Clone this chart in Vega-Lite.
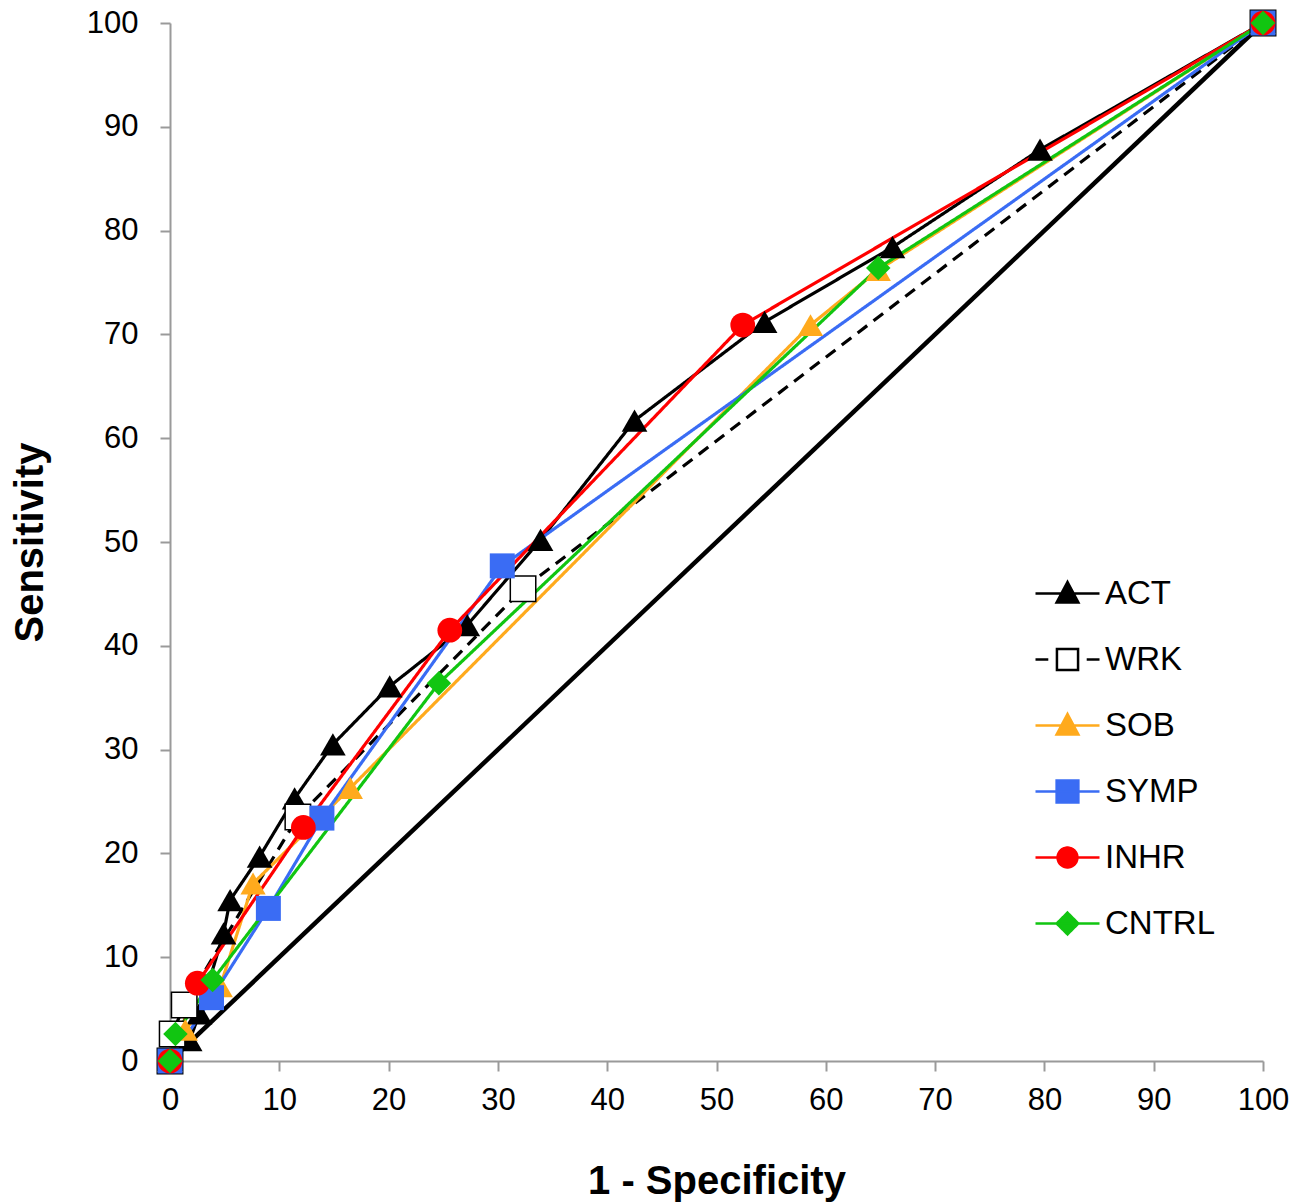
{
  "$schema": "https://vega.github.io/schema/vega-lite/v6.json",
  "width": 1093,
  "height": 1038,
  "autosize": {"type": "none"},
  "padding": {"left": 170, "top": 23, "right": 47, "bottom": 142},
  "background": "white",
  "config": {
    "view": {"stroke": null},
    "font": "Liberation Sans",
    "axis": {
      "grid": false,
      "labelFlush": false,
      "labelOverlap": false,
      "domainColor": "#9a9a9a",
      "domainWidth": 2,
      "tickColor": "#9a9a9a",
      "tickWidth": 2,
      "tickSize": 10,
      "labelFont": "Liberation Sans",
      "labelFontSize": 31,
      "labelColor": "#000000",
      "titleFont": "Liberation Sans",
      "titleFontSize": 40,
      "titleFontWeight": "bold",
      "titleColor": "#000000"
    }
  },
  "datasets": {
    "roc": [
      {"series": "ACT", "ord": 1, "x": 0, "y": 0},
      {"series": "ACT", "ord": 2, "x": 1.8, "y": 2.0},
      {"series": "ACT", "ord": 3, "x": 2.7, "y": 4.6},
      {"series": "ACT", "ord": 4, "x": 4.9, "y": 12.3},
      {"series": "ACT", "ord": 5, "x": 5.5, "y": 15.5},
      {"series": "ACT", "ord": 6, "x": 8.2, "y": 19.7},
      {"series": "ACT", "ord": 7, "x": 11.4, "y": 25.3},
      {"series": "ACT", "ord": 8, "x": 14.9, "y": 30.5},
      {"series": "ACT", "ord": 9, "x": 20.1, "y": 36.1},
      {"series": "ACT", "ord": 10, "x": 27.2, "y": 42.0},
      {"series": "ACT", "ord": 11, "x": 33.9, "y": 50.2},
      {"series": "ACT", "ord": 12, "x": 42.5, "y": 61.7},
      {"series": "ACT", "ord": 13, "x": 54.4, "y": 71.2},
      {"series": "ACT", "ord": 14, "x": 66.1, "y": 78.4},
      {"series": "ACT", "ord": 15, "x": 79.6, "y": 87.8},
      {"series": "ACT", "ord": 16, "x": 100, "y": 100},
      {"series": "WRK", "ord": 1, "x": 0, "y": 0},
      {"series": "WRK", "ord": 2, "x": 0.2, "y": 2.6},
      {"series": "WRK", "ord": 3, "x": 1.3, "y": 5.4},
      {"series": "WRK", "ord": 4, "x": 11.7, "y": 23.5},
      {"series": "WRK", "ord": 5, "x": 32.3, "y": 45.5},
      {"series": "WRK", "ord": 6, "x": 100, "y": 100},
      {"series": "SOB", "ord": 1, "x": 0, "y": 0},
      {"series": "SOB", "ord": 2, "x": 1.4, "y": 3.0},
      {"series": "SOB", "ord": 3, "x": 4.6, "y": 7.2},
      {"series": "SOB", "ord": 4, "x": 7.6, "y": 17.1},
      {"series": "SOB", "ord": 5, "x": 16.5, "y": 26.3},
      {"series": "SOB", "ord": 6, "x": 58.6, "y": 70.9},
      {"series": "SOB", "ord": 7, "x": 64.8, "y": 76.2},
      {"series": "SOB", "ord": 8, "x": 100, "y": 100},
      {"series": "SYMP", "ord": 1, "x": 0, "y": 0},
      {"series": "SYMP", "ord": 2, "x": 3.8, "y": 6.1},
      {"series": "SYMP", "ord": 3, "x": 9.0, "y": 14.7},
      {"series": "SYMP", "ord": 4, "x": 13.9, "y": 23.4},
      {"series": "SYMP", "ord": 5, "x": 30.4, "y": 47.7},
      {"series": "SYMP", "ord": 6, "x": 100, "y": 100},
      {"series": "INHR", "ord": 1, "x": 0, "y": 0},
      {"series": "INHR", "ord": 2, "x": 2.5, "y": 7.5},
      {"series": "INHR", "ord": 3, "x": 12.2, "y": 22.5},
      {"series": "INHR", "ord": 4, "x": 25.6, "y": 41.5},
      {"series": "INHR", "ord": 5, "x": 52.4, "y": 70.9},
      {"series": "INHR", "ord": 6, "x": 100, "y": 100},
      {"series": "CNTRL", "ord": 1, "x": 0, "y": 0},
      {"series": "CNTRL", "ord": 2, "x": 0.5, "y": 2.6},
      {"series": "CNTRL", "ord": 3, "x": 3.9, "y": 7.8},
      {"series": "CNTRL", "ord": 4, "x": 24.6, "y": 36.4},
      {"series": "CNTRL", "ord": 5, "x": 64.8, "y": 76.4},
      {"series": "CNTRL", "ord": 6, "x": 100, "y": 100}
    ],
    "diag": [
      {"x": 0, "y": 0},
      {"x": 100, "y": 100}
    ]
  },
  "layer": [
    {
      "data": {"name": "diag"},
      "mark": {"type": "line", "color": "#000000", "strokeWidth": 4.5, "clip": false},
      "encoding": {
        "x": {
          "field": "x", "type": "quantitative",
          "scale": {"domain": [0, 100], "nice": false},
          "axis": {"values": [0, 10, 20, 30, 40, 50, 60, 70, 80, 90, 100], "title": "1 - Specificity", "labelPadding": 14, "titlePadding": 46}
        },
        "y": {
          "field": "y", "type": "quantitative",
          "scale": {"domain": [0, 100], "nice": false},
          "axis": {"values": [0, 10, 20, 30, 40, 50, 60, 70, 80, 90, 100], "title": "Sensitivity", "labelPadding": 22, "titlePadding": 36}
        }
      }
    },
    {
      "mark": {"type": "rule", "color": "#000000", "strokeWidth": 2},
      "encoding": {"y": {"datum": 100, "type": "quantitative"}}
    },
    {
      "mark": {"type": "rule", "color": "#000000", "strokeWidth": 2},
      "encoding": {"x": {"datum": 100, "type": "quantitative"}}
    },
    {
      "data": {"name": "roc"},
      "mark": {"type": "line", "strokeWidth": 3.2, "clip": false},
      "encoding": {
        "x": {"field": "x", "type": "quantitative"},
        "y": {"field": "y", "type": "quantitative"},
        "order": {"field": "ord", "type": "quantitative"},
        "color": {
          "field": "series", "type": "nominal",
          "scale": {
            "domain": ["ACT", "WRK", "SOB", "SYMP", "INHR", "CNTRL"],
            "range": ["#000000", "#000000", "#FFAA1D", "#3A6CF4", "#FF0000", "#11C511"]
          },
          "legend": {
            "title": null,
            "orient": "none",
            "legendX": 864,
            "legendY": 537,
            "padding": 0,
            "symbolSize": 4096,
            "symbolStrokeWidth": 2.5,
            "labelFont": "Liberation Sans",
            "labelFontSize": 33,
            "labelColor": "#000000",
            "labelOffset": 4,
            "rowPadding": 15,
            "encode": {
              "symbols": {
                "update": {
                  "shape": {"signal": "datum.value==='ACT'||datum.value==='SOB' ? 'M-1,0H1M0,-0.36L0.34,0.28H-0.34Z' : datum.value==='WRK' ? 'M-1,0H-0.6M0.6,0H1M-0.33,-0.33H0.33V0.33H-0.33Z' : datum.value==='SYMP' ? 'M-1,0H1M-0.34,-0.34H0.34V0.34H-0.34Z' : datum.value==='INHR' ? 'M-1,0H1M-0.31,0A0.31,0.31 0 1,0 0.31,0A0.31,0.31 0 1,0 -0.31,0Z' : 'M-1,0H1M0,-0.34L0.34,0L0,0.34L-0.34,0Z'"},
                  "fill": {"signal": "datum.value==='WRK' ? '#ffffff' : datum.value==='ACT' ? '#000000' : datum.value==='SOB' ? '#FFAA1D' : datum.value==='SYMP' ? '#3A6CF4' : datum.value==='INHR' ? '#FF0000' : '#11C511'"},
                  "stroke": {"signal": "datum.value==='WRK' ? '#000000' : datum.value==='ACT' ? '#000000' : datum.value==='SOB' ? '#FFAA1D' : datum.value==='SYMP' ? '#3A6CF4' : datum.value==='INHR' ? '#FF0000' : '#11C511'"},
                  "strokeWidth": {"value": 2.5},
                  "strokeDash": {"value": [1, 0]},
                  "opacity": {"value": 1},
                  "fillOpacity": {"value": 1},
                  "strokeOpacity": {"value": 1},
                  "size": {"value": 4096}
                }
              }
            }
          }
        },
        "strokeDash": {
          "field": "series", "type": "nominal",
          "scale": {
            "domain": ["CNTRL", "INHR", "SYMP", "SOB", "WRK", "ACT"],
            "range": [[1, 0], [1, 0], [1, 0], [1, 0], [12, 8], [1, 0]]
          },
          "legend": null
        }
      }
    },
    {
      "data": {"name": "roc"},
      "mark": {"type": "point", "filled": true, "opacity": 1, "strokeWidth": 1.5, "clip": false},
      "encoding": {
        "x": {"field": "x", "type": "quantitative"},
        "y": {"field": "y", "type": "quantitative"},
        "shape": {
          "field": "series", "type": "nominal",
          "scale": {
            "domain": ["CNTRL", "INHR", "SYMP", "SOB", "WRK", "ACT"],
            "range": ["diamond", "circle", "square", "triangle-up", "square", "triangle-up"]
          },
          "legend": null
        },
        "size": {
          "field": "series", "type": "nominal",
          "scale": {
            "domain": ["CNTRL", "INHR", "SYMP", "SOB", "WRK", "ACT"],
            "range": [600, 660, 660, 660, 580, 660]
          },
          "legend": null
        },
        "fill": {
          "field": "series", "type": "nominal",
          "scale": {
            "domain": ["CNTRL", "INHR", "SYMP", "SOB", "WRK", "ACT"],
            "range": ["#11C511", "#FF0000", "#3A6CF4", "#FFAA1D", "#ffffff", "#000000"]
          },
          "legend": null
        },
        "stroke": {
          "field": "series", "type": "nominal",
          "scale": {
            "domain": ["CNTRL", "INHR", "SYMP", "SOB", "WRK", "ACT"],
            "range": ["transparent", "transparent", "transparent", "transparent", "#000000", "transparent"]
          },
          "legend": null
        }
      }
    }
  ]
}
